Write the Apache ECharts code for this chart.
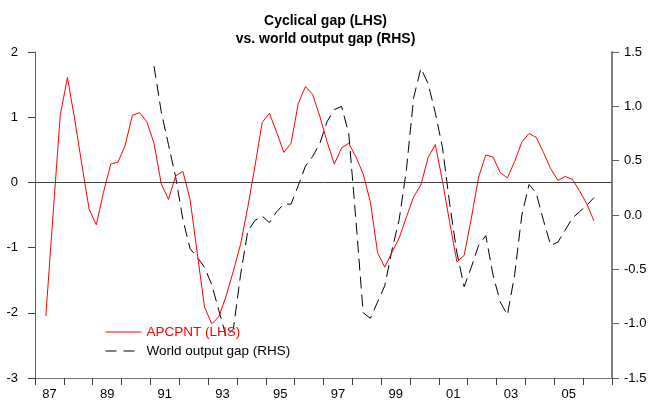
<!DOCTYPE html>
<html>
<head>
<meta charset="utf-8">
<script src="https://cdn.jsdelivr.net/npm/echarts@6/dist/echarts.min.js"></script>
<style>
html,body{margin:0;padding:0;background:#fff;}
#chart{width:651px;height:401px;}
</style>
</head>
<body>
<div id="chart"></div>
<script>
// Year tick labels (one band per year, quarterly data inside)
const years = ['87','88','89','90','91','92','93','94','95','96','97','98','99','00','01','02','03','04','05','06'];
const quarterNames = ['Q1','Q2','Q3','Q4'];
const quarters = [];
years.forEach(function (y) { quarterNames.forEach(function (q) { quarters.push(y + q); }); });

// APCPNT (LHS), quarterly from 87Q1
const apcpnt = [
  null, -2.05, -0.50, 1.03,
  1.61, 0.97, 0.27, -0.41,
  -0.65, -0.15, 0.28, 0.31,
  0.57, 1.03, 1.07, 0.93,
  0.60, -0.02, -0.26, 0.10,
  0.17, -0.26, -1.09, -1.91,
  -2.17, -2.06, -1.74, -1.36,
  -0.95, -0.38, 0.25, 0.92,
  1.06, 0.77, 0.46, 0.60,
  1.21, 1.47, 1.35, 1.01,
  0.62, 0.28, 0.53, 0.60,
  0.39, 0.13, -0.30, -1.08,
  -1.30, -1.07, -0.85, -0.53,
  -0.22, -0.04, 0.38, 0.58,
  0.02, -0.62, -1.22, -1.12,
  -0.55, 0.08, 0.42, 0.39,
  0.15, 0.07, 0.32, 0.62,
  0.75, 0.69, 0.46, 0.21,
  0.03, 0.09, 0.05, -0.13,
  -0.33, -0.59, null, null
];

// World output gap (RHS), quarterly from 87Q1
const worldGap = [
  null, null, null, null,
  null, null, null, null,
  null, null, null, null,
  null, null, null, null,
  1.37, 0.95, 0.65, 0.35,
  -0.04, -0.31, -0.39, -0.48,
  -0.64, -0.88, -1.12, -1.05,
  -0.55, -0.15, -0.05, -0.01,
  -0.07, 0.03, 0.10, 0.10,
  0.27, 0.45, 0.54, 0.66,
  0.86, 0.97, 1.00, 0.75,
  -0.05, -0.90, -0.95, -0.80,
  -0.65, -0.32, -0.04, 0.42,
  1.08, 1.35, 1.21, 0.94,
  0.62, 0.10, -0.35, -0.66,
  -0.48, -0.28, -0.19, -0.55,
  -0.80, -0.92, -0.55, 0.00,
  0.28, 0.20, -0.05, -0.28,
  -0.25, -0.14, -0.03, 0.03,
  0.09, 0.16, null, null
];

const leftTicks = { min: -3, max: 2, interval: 1 };
const rightTicks = { min: -1.5, max: 1.5, interval: 0.5 };

const FONT = '"Liberation Sans", Arial, sans-serif';
const chart = echarts.init(document.getElementById('chart'), null, { renderer: 'canvas' });

chart.setOption({
  animation: false,
  backgroundColor: '#ffffff',
  title: {
    text: 'Cyclical gap (LHS)\nvs. world output gap (RHS)',
    left: 'center',
    top: 7,
    textStyle: { fontFamily: FONT, fontSize: 14, fontWeight: 'bold', color: '#000', lineHeight: 18 }
  },
  legend: {
    orient: 'vertical',
    left: 100,
    top: 320,
    itemWidth: 36,
    itemHeight: 14,
    itemGap: 5,
    itemStyle: { opacity: 0 },
    textStyle: { fontFamily: FONT, fontSize: 13.5, color: '#000' },
    data: [
      { name: 'APCPNT (LHS)', textStyle: { color: '#ff0000' }, lineStyle: { color: '#ff0000', width: 1, type: 'solid' } },
      { name: 'World output gap (RHS)', lineStyle: { type: [11, 7], color: '#000', width: 1 } }
    ]
  },
  grid: { left: 35, right: 39, top: 52, bottom: 22, containLabel: false },
  xAxis: [
    {
      type: 'category',
      data: quarters,
      boundaryGap: true,
      position: 'bottom',
      axisLine: { show: true, onZero: false, lineStyle: { color: '#707070', width: 1 } },
      axisTick: { show: true, interval: 3, length: 7, lineStyle: { color: '#404040' } },
      axisLabel: { show: false },
      splitLine: { show: false }
    },
    {
      type: 'category',
      data: years,
      boundaryGap: true,
      position: 'bottom',
      axisLine: { show: false, onZero: false },
      axisTick: { show: false },
      axisLabel: { interval: 1, margin: 10, fontFamily: FONT, fontSize: 13, color: '#000' },
      splitLine: { show: false }
    }
  ],
  yAxis: [
    {
      type: 'value',
      position: 'left',
      min: leftTicks.min, max: leftTicks.max, interval: leftTicks.interval,
      axisLine: { show: true, onZero: false, lineStyle: { color: '#606060', width: 1 } },
      axisTick: { show: true, length: 7, lineStyle: { color: '#404040' } },
      axisLabel: { margin: 17, fontFamily: FONT, fontSize: 13, color: '#000' },
      splitLine: { show: false }
    },
    {
      type: 'value',
      position: 'right',
      min: rightTicks.min, max: rightTicks.max, interval: rightTicks.interval,
      axisLine: { show: true, onZero: false, lineStyle: { color: '#808080', width: 2 } },
      axisTick: { show: true, length: 7, lineStyle: { color: '#606060' } },
      axisLabel: { margin: 12, fontFamily: FONT, fontSize: 13, color: '#000',
        formatter: function (v) { return v.toFixed(1); } },
      splitLine: { show: false }
    }
  ],
  series: [
    {
      name: 'APCPNT (LHS)',
      type: 'line',
      xAxisIndex: 0,
      yAxisIndex: 0,
      data: apcpnt,
      symbol: 'none',
      lineStyle: { color: '#ff0000', width: 1 },
      itemStyle: { color: '#ff0000' },
      z: 3,
      markLine: {
        silent: true,
        symbol: 'none',
        label: { show: false },
        lineStyle: { color: '#404040', width: 1, type: 'solid' },
        data: [{ yAxis: 0 }]
      }
    },
    {
      name: 'World output gap (RHS)',
      type: 'line',
      xAxisIndex: 0,
      yAxisIndex: 1,
      data: worldGap,
      symbol: 'none',
      lineStyle: { color: '#000000', width: 1, type: [12, 6] },
      itemStyle: { color: '#000000' },
      z: 2
    }
  ]
});
</script>
</body>
</html>
